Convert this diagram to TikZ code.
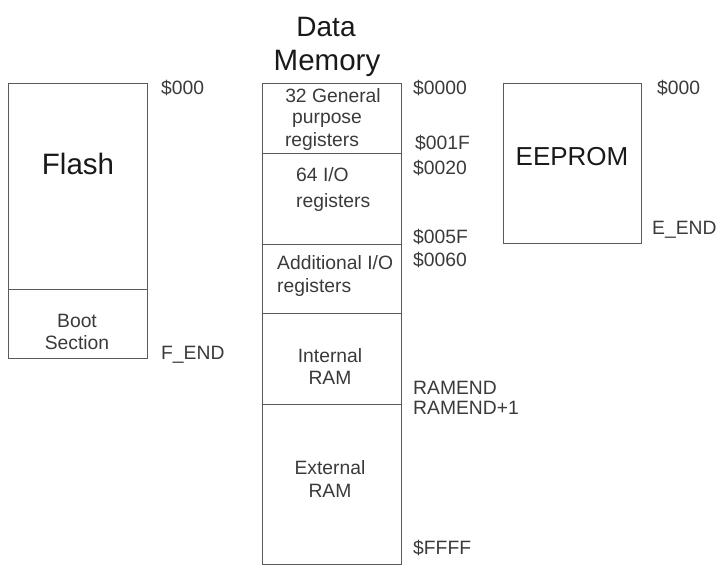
\documentclass[tikz,border=0pt]{standalone}
\usepackage{fontspec}
\setmainfont{Liberation Sans}
\definecolor{linec}{HTML}{5A5A5A}
\definecolor{txtc}{HTML}{3A3A3A}
\begin{document}
\begin{tikzpicture}[x=1pt,y=-1pt,
  mbox/.style={draw=linec, line width=1.2pt, inner sep=0pt, anchor=north west},
  big/.style={inner sep=0pt, anchor=base, font=\fontsize{28}{32}\selectfont, text=black!90},
  small/.style={inner sep=0pt, anchor=base, font=\fontsize{19.3}{22}\selectfont, text=txtc},
  addr/.style={small, anchor=base west}]
\useasboundingbox (0,0) rectangle (722,580);
% Flash
\node[mbox, minimum width=139pt, minimum height=206pt] (flash) at (8,83) {};
\node[mbox, minimum width=139pt, minimum height=69pt] (boot) at (8,289) {};
\node[big, font=\fontsize{29.5}{32}\selectfont] (flasht) at (78,175) {Flash};
\node[small] (boott1) at (77,327) {Boot};
\node[small] (boott2) at (77,349) {Section};
\node[addr] (f0) at (161,95) {\$000};
\node[addr] (fend) at (161,359) {F\_END};
% Data memory
\node[big] (dm1) at (326,37) {Data};
\node[big, font=\fontsize{29.5}{32}\selectfont] (dm2) at (327,71) {Memory};
\node[mbox, minimum width=139pt, minimum height=70pt] (gpr) at (262,83) {};
\node[mbox, minimum width=139pt, minimum height=91pt] (io) at (262,153) {};
\node[mbox, minimum width=139pt, minimum height=69pt] (aio) at (262,244) {};
\node[mbox, minimum width=139pt, minimum height=91pt] (iram) at (262,313) {};
\node[mbox, minimum width=139pt, minimum height=160pt] (xram) at (262,404) {};
\node[small] (g1) at (333,103) {32 General};
\node[small] (g2) at (327,124) {purpose};
\node[small] (g3) at (322,147) {registers};
\node[small, anchor=base west] (i1) at (296,182) {64 I/O};
\node[small, anchor=base west] (i2) at (296,207) {registers};
\node[small, anchor=base west] (a1) at (277,269) {Additional I/O};
\node[small, anchor=base west] (a2) at (277,292) {registers};
\node[small] (r1) at (330,362) {Internal};
\node[small] (r2) at (330,384) {RAM};
\node[small] (x1) at (330,474) {External};
\node[small] (x2) at (330,497) {RAM};
\node[addr] (d0) at (413,95) {\$0000};
\node[addr] (d1) at (415,150) {\$001F};
\node[addr] (d2) at (413,175) {\$0020};
\node[addr] (d3) at (413,243) {\$005F};
\node[addr] (d4) at (413,266) {\$0060};
\node[addr] (d5) at (413,394) {RAMEND};
\node[addr] (d6) at (413,414) {RAMEND+1};
\node[addr] (d7) at (413,554) {\$FFFF};
% EEPROM
\node[mbox, minimum width=138pt, minimum height=160pt] (eep) at (503,83) {};
\node[big, font=\fontsize{26}{30}\selectfont] (eept) at (572,165) {EEPROM};
\node[addr] (e0) at (657,95) {\$000};
\node[addr] (eend) at (652,234) {E\_END};
\end{tikzpicture}
\end{document}
